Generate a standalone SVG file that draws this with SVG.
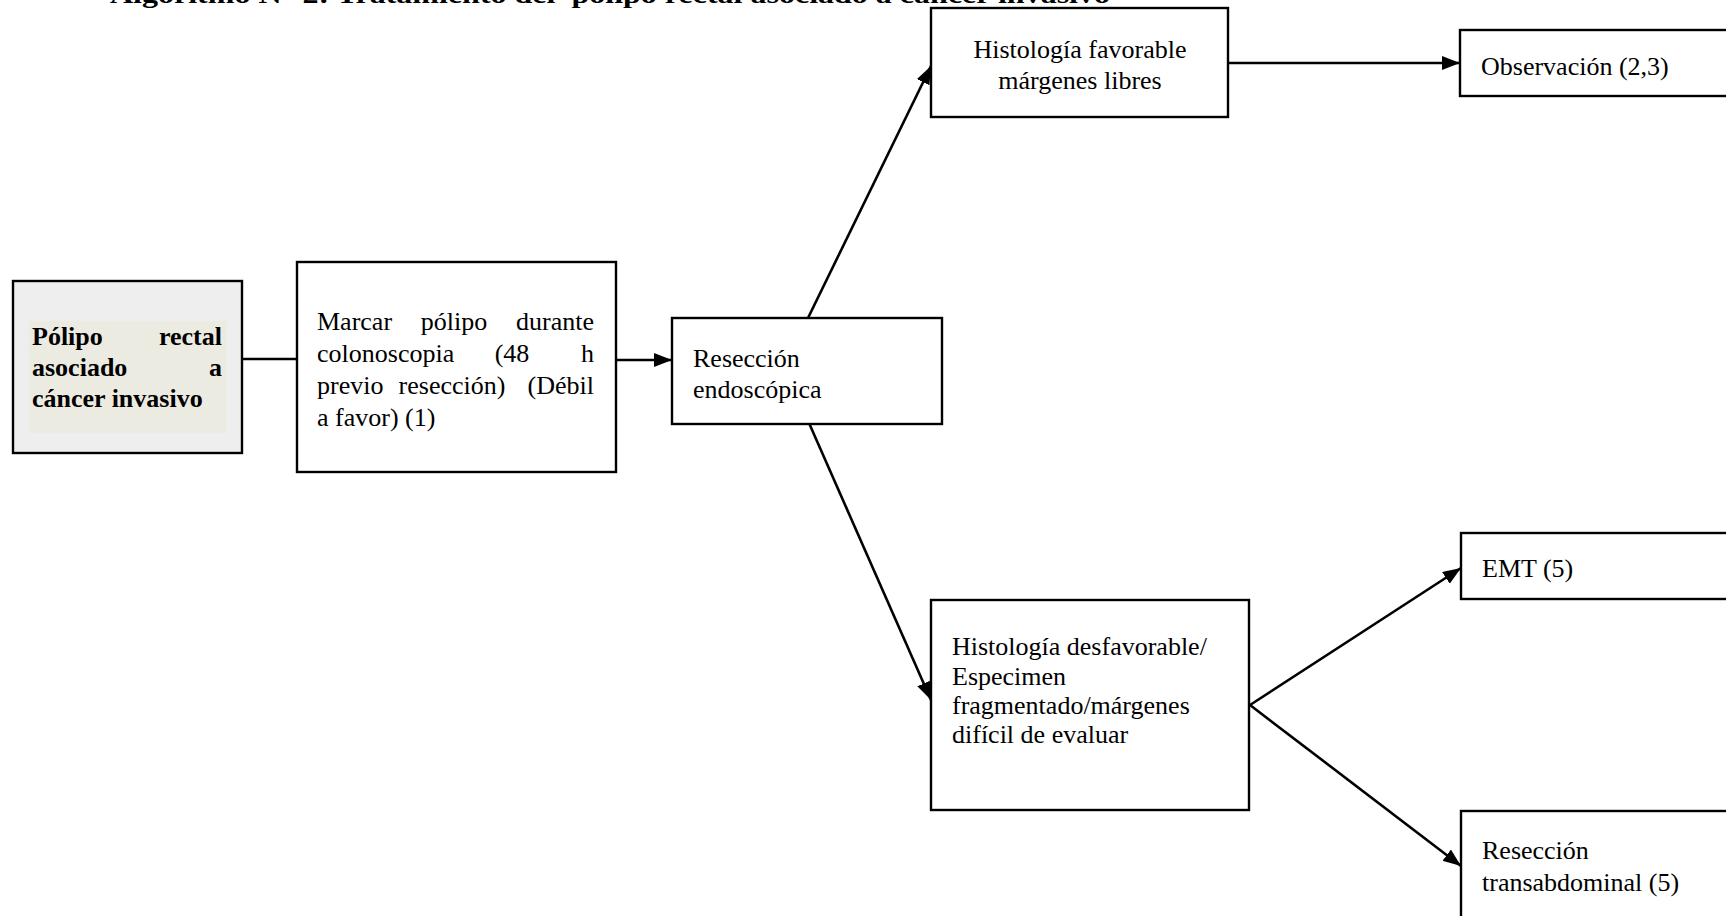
<svg xmlns="http://www.w3.org/2000/svg" width="1726" height="916" viewBox="0 0 1726 916">
  <style>
    .box { fill: #ffffff; stroke: #000000; stroke-width: 2.4; }
    .t { font-family: "Liberation Serif", "Times New Roman", serif; font-size: 26px; fill: #000000; }
    .b { font-weight: bold; }
    .c { fill: none; stroke: #000000; stroke-width: 2.6; }
  </style>
  <defs>
    <marker id="arrow" markerUnits="userSpaceOnUse" markerWidth="19" markerHeight="15" refX="18" refY="7" orient="auto">
      <path d="M0,0 L18,7 L0,14 z" fill="#000000"/>
    </marker>
  </defs>

  <rect width="1726" height="916" fill="#ffffff"/>

  <!-- heading, partly above the top edge -->
  <text class="t b" x="110" y="3" font-size="31" textLength="1000" lengthAdjust="spacingAndGlyphs" xml:space="preserve">Algoritmo N° 2: Tratamiento del  pólipo rectal asociado a cáncer invasivo</text>

  <g id="connectors">
    <line class="c" x1="242" y1="359" x2="297" y2="359"/>
    <line class="c" x1="616" y1="360" x2="672" y2="360" marker-end="url(#arrow)"/>
    <line class="c" x1="808" y1="318" x2="931" y2="66" marker-end="url(#arrow)"/>
    <line class="c" x1="809" y1="423" x2="931" y2="700" marker-end="url(#arrow)"/>
    <line class="c" x1="1228" y1="63" x2="1460" y2="63" marker-end="url(#arrow)"/>
    <line class="c" x1="1250" y1="705" x2="1461" y2="568" marker-end="url(#arrow)"/>
    <line class="c" x1="1250" y1="705" x2="1461" y2="866" marker-end="url(#arrow)"/>
  </g>

  <g id="polipo">
    <rect x="13" y="281" width="229" height="172" fill="#eeeeee" stroke="#000000" stroke-width="2.4"/>
    <rect x="29" y="321" width="197" height="112" fill="#ecebe1"/>
    <text class="t b" x="32" y="345">Pólipo</text>
    <text class="t b" x="222" y="345" text-anchor="end">rectal</text>
    <text class="t b" x="32" y="376">asociado</text>
    <text class="t b" x="222" y="376" text-anchor="end">a</text>
    <text class="t b" x="32" y="407">cáncer invasivo</text>
  </g>

  <g id="marcar">
    <rect class="box" x="297" y="262" width="319" height="210"/>
    <text class="t" x="317" y="330">Marcar</text>
    <text class="t" x="454" y="330" text-anchor="middle">pólipo</text>
    <text class="t" x="594" y="330" text-anchor="end">durante</text>
    <text class="t" x="317" y="362">colonoscopia</text>
    <text class="t" x="512" y="362" text-anchor="middle">(48</text>
    <text class="t" x="594" y="362" text-anchor="end">h</text>
    <text class="t" x="317" y="394">previo</text>
    <text class="t" x="452" y="394" text-anchor="middle">resección)</text>
    <text class="t" x="594" y="394" text-anchor="end">(Débil</text>
    <text class="t" x="317" y="426">a favor) (1)</text>
  </g>

  <g id="reseccion-endoscopica">
    <rect class="box" x="672" y="318" width="270" height="106"/>
    <text class="t" x="693" y="367">Resección</text>
    <text class="t" x="693" y="398">endoscópica</text>
  </g>

  <g id="histologia-favorable">
    <rect class="box" x="931" y="8" width="297" height="109"/>
    <text class="t" x="1080" y="58" text-anchor="middle">Histología favorable</text>
    <text class="t" x="1080" y="89" text-anchor="middle">márgenes libres</text>
  </g>

  <g id="observacion">
    <rect class="box" x="1460" y="30" width="300" height="66"/>
    <text class="t" x="1481" y="75">Observación (2,3)</text>
  </g>

  <g id="histologia-desfavorable">
    <rect class="box" x="931" y="600" width="318" height="210"/>
    <text class="t" x="952" y="655">Histología desfavorable/</text>
    <text class="t" x="952" y="685">Especimen</text>
    <text class="t" x="952" y="714">fragmentado/márgenes</text>
    <text class="t" x="952" y="743">difícil de evaluar</text>
  </g>

  <g id="emt">
    <rect class="box" x="1461" y="533" width="300" height="66"/>
    <text class="t" x="1482" y="577">EMT (5)</text>
  </g>

  <g id="reseccion-transabdominal">
    <rect class="box" x="1461" y="811" width="300" height="150"/>
    <text class="t" x="1482" y="859">Resección</text>
    <text class="t" x="1482" y="891">transabdominal (5)</text>
  </g>
</svg>
